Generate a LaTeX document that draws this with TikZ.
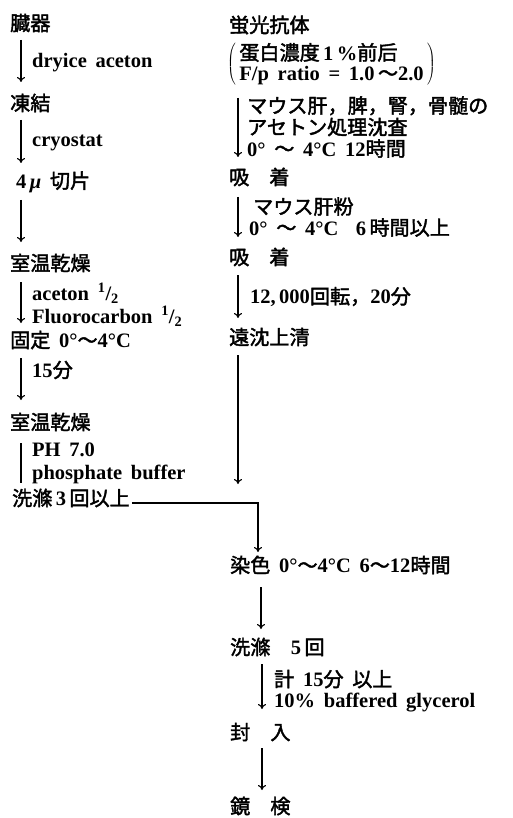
\documentclass[tikz,border=0pt]{standalone}
\usepackage{fontspec}
\setmainfont{Liberation Serif}[WordSpace=1.7]
\newfontfamily\jp[Scale=0.98,FakeBold=2]{Noto Sans CJK JP}
\usetikzlibrary{arrows.meta}
\newcommand\J[1]{{\jp\mdseries #1}}
\newcommand\half{\textsuperscript{1}/\textsubscript{2}}
\begin{document}
\begin{tikzpicture}[x=1pt,y=-1pt,
  every node/.style={inner sep=0pt, anchor=west, font=\fontsize{20.5}{23}\selectfont\bfseries},
  note/.style={align=left},
  arr/.style={line width=1.1pt, -{To[length=5pt,width=8pt]}},
  bar/.style={line width=1.1pt}]
\fill[white] (0,0) rectangle (512,818);
\useasboundingbox (0,0) rectangle (512,818);

% left column
\node (n1) at (10,23) {\J{臓器}};
\node[note] (t1) at (32,63) {dryice aceton};
\node (n2) at (10,103) {\J{凍結}};
\node[note] (t2) at (32,143) {cryostat};
\node (n3) at (16,182) {4\,{\itshape μ}\ \J{切片}};
\node (n4) at (10,263) {\J{室温乾燥}};
\node[note] (t4) at (32,305) {aceton \half\\[0pt] Fluorocarbon \half};
\node (n5) at (10,340) {\J{固定} 0°\J{～}4°C};
\node[note] (t5) at (32,370) {15\J{分}};
\node (n6) at (10,422) {\J{室温乾燥}};
\node[note] (t6) at (32,463) {PH 7.0\\[0pt] phosphate buffer};
\node (n7) at (12,498) {\J{洗滌}\,3\,\J{回以上}};

\draw[arr] ([shift={(11,17)}]n1.west) -- ([shift={(11,-21)}]n2.west);
\draw[arr] ([shift={(11,17)}]n2.west) -- ([shift={(5,-19)}]n3.west);
\draw[arr] ([shift={(5,18)}]n3.west) -- ([shift={(11,-21)}]n4.west);
\draw[arr] ([shift={(11,19)}]n4.west) -- ([shift={(11,-17)}]n5.west);
\draw[arr] ([shift={(11,18)}]n5.west) -- ([shift={(11,-22)}]n6.west);
\draw[bar] ([shift={(11,21)}]n6.west) -- ([shift={(9,-15)}]n7.west);

% right column
\node (r1) at (229,25) {\J{蛍光抗体}};
\node (r2) at (227,64) {$\left(\,\vcenter{\baselineskip=20.5pt\lineskiplimit=-10pt
   \hbox{\J{蛋白濃度}\,1\,\%\J{前后}}
   \hbox{F/p ratio = 1.0\,\J{～}2.0}}\,\right)$};
\node[note] (s1) at (247,127) {\J{マウス肝，脾，腎，骨髄の}\\[-1.5pt] \J{アセトン処理沈査}\\[-1.5pt] 0° \J{～} 4°C 12\J{時間}};
\node (r3) at (229,177) {\J{吸　着}};
\node[note] (s2) at (249,217) {\hspace{4pt}\J{マウス肝粉}\\[-2pt] 0° \J{～} 4°C\ \ 6\,\J{時間以上}};
\node (r4) at (229,257) {\J{吸　着}};
\node[note] (s3) at (250,297) {12,\,000\J{回転，}20\J{分}};
\node (r5) at (229,337) {\J{遠沈上清}};
\node (r6) at (230,565) {\J{染色} 0°\J{～}4°C 6\J{～}12\J{時間}};
\node (r7) at (230,647) {\J{洗滌}\quad 5\,\J{回}};
\node[note] (s7) at (274,691) {\J{計} 15\J{分} \J{以上}\\[-2pt] 10\% baffered glycerol};
\node (r8) at (230,732) {\J{封　入}};
\node (r9) at (230,806) {\J{鏡　検}};

\coordinate (m1) at (238,484);
\coordinate (m2) at (258,552);

\draw[arr] ([shift={(11,34)}]r2.west) -- ([shift={(9,-20)}]r3.west);
\draw[arr] ([shift={(9,20)}]r3.west) -- ([shift={(9,-20)}]r4.west);
\draw[arr] ([shift={(9,18)}]r4.west) -- ([shift={(9,-19)}]r5.west);
\draw[arr] ([shift={(9,18)}]r5.west) -- (m1);
\draw[arr] ([shift={(2,5)}]n7.east) -| (m2);
\draw[arr] ([shift={(31,22)}]r6.west) -- ([shift={(31,-18)}]r7.west);
\draw[arr] ([shift={(32,17)}]r7.west) -- ([shift={(32,-23)}]r8.west);
\draw[arr] ([shift={(32,16)}]r8.west) -- ([shift={(32,-16)}]r9.west);
\end{tikzpicture}
\end{document}
